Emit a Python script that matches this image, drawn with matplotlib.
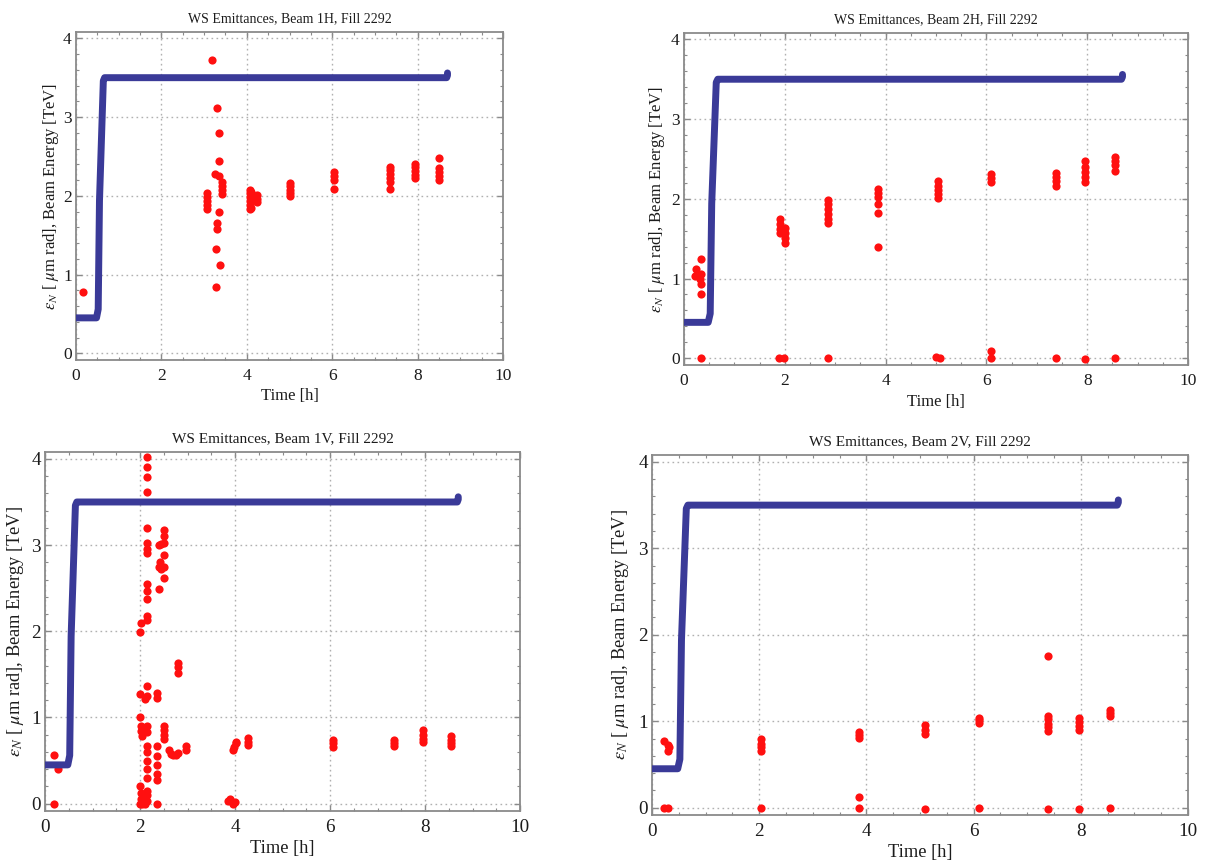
import matplotlib
matplotlib.use("Agg")
import matplotlib.pyplot as plt
from matplotlib.ticker import MultipleLocator

plt.rcParams['font.family'] = ['Liberation Serif', 'DejaVu Serif']
plt.rcParams['mathtext.fontset'] = 'stix'

# beam energy ramp [TeV] vs time [h], same fill for all four panels
energy_t = [0.0, 0.48, 0.52, 0.55, 0.64, 0.67, 8.68, 8.70, 8.70]
energy_e = [0.45, 0.45, 0.56, 1.94, 3.46, 3.50, 3.50, 3.53, 3.56]

# Beam 1H
t_1h = [0.17,
        3.07, 3.07, 3.07, 3.07, 3.07,
        3.19, 3.30, 3.35, 3.35, 3.26, 3.35,
        3.42, 3.42, 3.42, 3.42,
        3.36, 3.31, 3.31, 3.29, 3.37, 3.28,
        4.07, 4.07, 4.07, 4.07, 4.07, 4.07, 4.11, 4.11,
        4.25, 4.25, 4.25,
        5.02, 5.02, 5.02, 5.02, 5.02,
        6.05, 6.05, 6.05, 6.05,
        7.35, 7.35, 7.35, 7.35, 7.35, 7.35,
        7.93, 7.93, 7.93, 7.93, 7.93,
        8.50, 8.50, 8.50, 8.50, 8.50]
e_1h = [0.78,
        2.04, 1.98, 1.93, 1.88, 1.83,
        3.72, 3.12, 2.80, 2.44, 2.28, 2.25,
        2.18, 2.12, 2.07, 2.02,
        1.79, 1.65, 1.58, 1.33, 1.12, 0.84,
        2.08, 2.03, 1.98, 1.93, 1.88, 1.83, 2.05, 1.85,
        2.01, 1.96, 1.92,
        2.16, 2.12, 2.08, 2.04, 2.00,
        2.30, 2.25, 2.20, 2.09,
        2.37, 2.33, 2.28, 2.23, 2.18, 2.09,
        2.40, 2.36, 2.31, 2.27, 2.23,
        2.48, 2.35, 2.30, 2.25, 2.20]

# Beam 2H
t_2h = [0.23, 0.21, 0.33, 0.33, 0.33, 0.33, 0.31, 0.33,
        1.90, 1.90, 1.90, 1.90, 2.00, 2.00, 2.00, 2.00, 1.88, 1.98,
        2.85, 2.85, 2.85, 2.85, 2.85, 2.85, 2.85,
        3.84, 3.84, 3.84, 3.84, 3.84, 3.84,
        5.03, 5.03, 5.03, 5.03, 5.03, 5.00, 5.08,
        6.10, 6.10, 6.10, 6.10, 6.10,
        7.38, 7.38, 7.38, 7.38, 7.38,
        7.96, 7.96, 7.96, 7.96, 7.96, 7.96,
        8.55, 8.55, 8.55, 8.55, 8.55]
e_2h = [1.12, 1.03, 1.25, 1.06, 0.93, 0.80, 1.00, 0.00,
        1.75, 1.68, 1.62, 1.57, 1.63, 1.57, 1.51, 1.45, 0.00, 0.00,
        1.99, 1.93, 1.87, 1.81, 1.75, 1.70, 0.00,
        2.12, 2.07, 2.02, 1.94, 1.82, 1.40,
        2.22, 2.16, 2.11, 2.06, 2.01, 0.02, 0.00,
        2.31, 2.26, 2.21, 0.09, 0.00,
        2.32, 2.27, 2.22, 2.16, 0.00,
        2.48, 2.40, 2.33, 2.27, 2.21, -0.01,
        2.52, 2.47, 2.42, 2.35, 0.00]

# Beam 1V
t_1v = [0.18, 0.18, 0.27,
        2.01, 2.02, 2.00, 2.01, 2.02, 2.03, 2.04, 2.01, 2.02, 2.03, 2.05, 2.00,
        2.14, 2.14, 2.14, 2.14, 2.14, 2.14, 2.14, 2.14, 2.14, 2.14, 2.14, 2.14, 2.14,
        2.14, 2.14, 2.14, 2.14, 2.14, 2.14, 2.14, 2.14, 2.14, 2.14, 2.14, 2.14,
        2.10, 2.10, 2.10, 2.10,
        2.35, 2.35, 2.35, 2.35, 2.35, 2.35, 2.35, 2.35,
        2.40, 2.43, 2.40, 2.40, 2.45, 2.45,
        2.50, 2.50, 2.50, 2.50, 2.50, 2.50,
        2.50, 2.50, 2.50, 2.50,
        2.60, 2.65, 2.70, 2.75, 2.80,
        2.80, 2.80, 2.80,
        2.97, 2.97,
        3.85, 3.90, 3.95, 4.00,
        3.95, 3.97, 4.02, 4.03,
        4.27, 4.27, 4.27,
        6.07, 6.07, 6.07,
        7.35, 7.35, 7.35,
        7.95, 7.95, 7.95, 7.95,
        8.55, 8.55, 8.55, 8.55]
e_1v = [0.57, 0.00, 0.40,
        1.99, 2.10, 1.27, 1.00, 0.90, 0.84, 0.78, 0.20, 0.12, 0.05, 0.00, 0.00,
        4.02, 3.91, 3.79, 3.62, 3.20, 3.02, 2.95, 2.91, 2.55, 2.47, 2.37, 2.18, 2.13,
        1.37, 1.25, 0.90, 0.83, 0.67, 0.60, 0.50, 0.40, 0.30, 0.15, 0.10, 0.03,
        1.22, 0.88, 0.05, 0.00,
        1.28, 1.23, 0.67, 0.55, 0.45, 0.35, 0.27, 0.00,
        3.00, 2.80, 2.75, 2.49, 3.01, 2.72,
        3.18, 3.10, 3.02, 2.89, 2.75, 2.62,
        0.90, 0.85, 0.80, 0.75,
        0.62, 0.58, 0.56, 0.57, 0.59,
        1.63, 1.58, 1.52,
        0.67, 0.62,
        0.03, 0.05, 0.00, 0.02,
        0.62, 0.66, 0.70, 0.72,
        0.76, 0.72, 0.68,
        0.74, 0.70, 0.66,
        0.74, 0.70, 0.67,
        0.85, 0.80, 0.75, 0.72,
        0.78, 0.74, 0.70, 0.67]

# Beam 2V
t_2v = [0.23, 0.30, 0.30, 0.32, 0.22, 0.30,
        2.04, 2.04, 2.04, 2.04, 2.04,
        3.86, 3.86, 3.86, 3.86, 3.86,
        5.10, 5.10, 5.10, 5.10,
        6.10, 6.10, 6.10, 6.10,
        7.38, 7.38, 7.38, 7.38, 7.38, 7.38, 7.38,
        7.97, 7.97, 7.97, 7.97, 7.97,
        8.55, 8.55, 8.55, 8.55]
e_2v = [0.77, 0.73, 0.65, 0.70, 0.00, 0.00,
        0.79, 0.74, 0.70, 0.66, 0.00,
        0.87, 0.84, 0.81, 0.12, 0.00,
        0.96, 0.90, 0.85, -0.01,
        1.04, 1.01, 0.98, 0.00,
        1.75, 1.06, 1.02, 0.97, 0.93, 0.89, -0.01,
        1.04, 0.99, 0.95, 0.90, -0.01,
        1.13, 1.10, 1.06, 0.00]

# name, x data, y data, axes rect in pixels (left, top, right, bottom), font scale, ylabel x
panels = [
    ('1H', t_1h, e_1h, (76, 32, 503, 360), 1.0, -0.036),
    ('2H', t_2h, e_2h, (684, 33, 1188, 365), 1.0, -0.034),
    ('1V', t_1v, e_1v, (45, 452, 520, 811), 1.1, -0.040),
    ('2V', t_2v, e_2v, (652, 455, 1188, 815), 1.1, -0.040),
]

blue = '#3a3a98'
red = '#ff1010'
txt = '#1c1c1c'
W, H = 1226, 861

fig = plt.figure(figsize=(W / 100, H / 100), dpi=100)

for name, t, e, (l, tp, r, b), k, ylx in panels:
    ax = fig.add_axes([l / W, 1 - b / H, (r - l) / W, (b - tp) / H])
    ax.plot(t, e, 'o', color=red, markersize=5.9, markeredgewidth=0, zorder=3)
    ax.plot(energy_t, energy_e, '-', color=blue, lw=5.0, solid_capstyle='round',
            solid_joinstyle='round', zorder=4)

    ax.set_xlim(0, 10)
    ax.set_ylim(-0.085, 4.08)
    ax.xaxis.set_major_locator(MultipleLocator(2))
    ax.xaxis.set_minor_locator(MultipleLocator(0.5))
    ax.yaxis.set_major_locator(MultipleLocator(1))
    ax.yaxis.set_minor_locator(MultipleLocator(0.2))
    ax.tick_params(which='both', direction='in', top=True, right=True,
                   color='#8a8a8a', labelcolor=txt, labelsize=12.5 * k)
    ax.tick_params(axis='x', which='both', pad=6)
    ax.tick_params(axis='y', which='both', pad=3)
    ax.tick_params(which='major', length=4, width=1)
    ax.tick_params(which='minor', length=2.5, width=0.8)
    for s in ax.spines.values():
        s.set_color('#8a8a8a')
        s.set_linewidth(1.3)
    ax.grid(True, which='major', color='#b0b0b0', linestyle=(0, (1.2, 2.4)), lw=1)
    ax.set_axisbelow(True)

    ax.set_title(f'WS Emittances, Beam {name}, Fill 2292', fontsize=10 * k, color=txt, pad=7)
    ax.set_xlabel('Time [h]', fontsize=12 * k, color=txt, labelpad=3)
    ax.set_ylabel(r'$\epsilon_N$ [ $\mu$m rad], Beam Energy [TeV]', fontsize=12 * k, color=txt)
    ax.yaxis.set_label_coords(ylx, 0.5)

fig.savefig('out.png', dpi=100, facecolor='white')
